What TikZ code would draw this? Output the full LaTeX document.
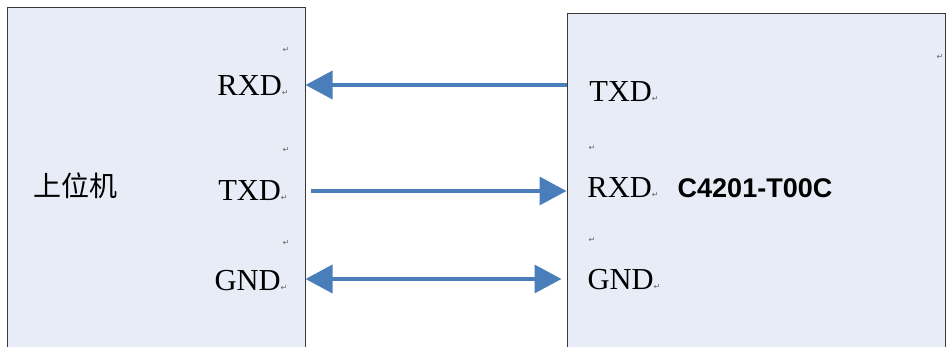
\documentclass[tikz,border=0pt]{standalone}
\usepackage{fontspec}
\setmainfont{Liberation Serif}
\newfontfamily\cjkfont{Noto Sans CJK SC}
\newfontfamily\headfont{Liberation Sans}
\newfontfamily\symfont{DejaVu Sans}
\usetikzlibrary{arrows.meta}
\definecolor{kotakbiru}{RGB}{232,236,247}
\definecolor{garisbiru}{RGB}{74,126,187}
\newcommand{\retmark}{{\symfont\fontsize{8}{9}\selectfont\color{gray!80!black}↵}}

\begin{document}
\begin{tikzpicture}[x=1pt, y=-1pt,
        unit/.style={rectangle, draw=gray!45!black, line width=1pt, fill=kotakbiru,
                     minimum width=#1, minimum height=345pt, inner sep=0pt},
        pin/.style={font=\fontsize{30.5}{36}\selectfont, inner sep=0pt},
        retnode/.style={inner sep=0pt},
        link/.style={draw=garisbiru, line width=3.5pt, >={Triangle[length=27pt, width=28pt]}}
    ]
        \clip (0,0) rectangle (950,347);
        \useasboundingbox (0,0) rectangle (950,347);
        \node[unit=298pt] (host) at (156,180.5) {};
        \node[unit=378pt] (dev)  at (756,186.5) {};
        \node[font=\cjkfont\fontsize{28}{32}\selectfont, inner sep=0pt] (hname) at (75,186) {上位机};
        \node[font=\headfont\bfseries\fontsize{27}{31}\selectfont, inner sep=0pt] (dname) at (755,188) {C4201-T00C};

        \node[pin] (hrxd) at (253,86)  {RXD\retmark};
        \node[pin] (htxd) at (253,191) {TXD\retmark};
        \node[pin] (hgnd) at (251,281) {GND\retmark};
        \node[pin] (dtxd) at (624,92)  {TXD\retmark};
        \node[pin] (drxd) at (623,188) {RXD\retmark};
        \node[pin] (dgnd) at (624,280) {GND\retmark};

        \node[retnode] (m1) at (286,50)  {\retmark};
        \node[retnode] (m2) at (286,150) {\retmark};
        \node[retnode] (m3) at (286,243) {\retmark};
        \node[retnode] (m4) at (940,57)  {\retmark};
        \node[retnode] (m5) at (592,148) {\retmark};
        \node[retnode] (m6) at (592,240) {\retmark};

        \draw[link, ->] ([yshift=1pt]dev.west |- hrxd) -- ([yshift=1pt]host.east |- hrxd);
        \draw[link, ->] ([xshift=5pt]host.east |- htxd) -- (dev.west |- htxd);
        \draw[link, <->] ([yshift=2pt]host.east |- hgnd) -- ([xshift=-5pt, yshift=2pt]dev.west |- hgnd);
    \end{tikzpicture}
\end{document}
